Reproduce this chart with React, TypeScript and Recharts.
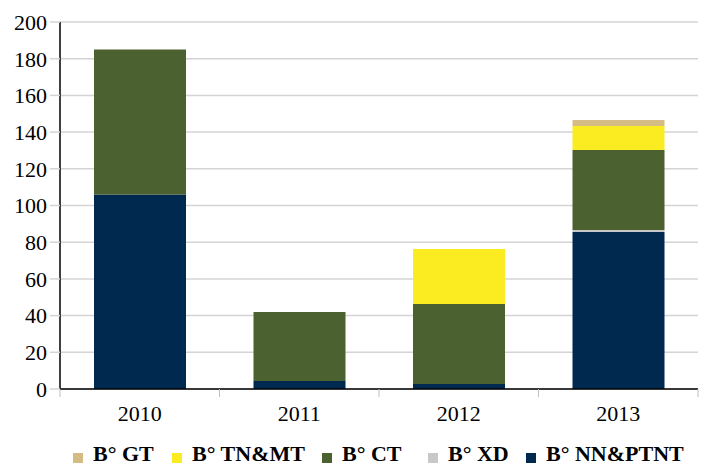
import React from 'react';
import { BarChart, Bar, XAxis, YAxis, CartesianGrid } from 'recharts';

// Categories (years)
const years = ['2010', '2011', '2012', '2013'];

// Series values per year
const nnPtnt = [106, 4.4, 2.7, 85.6];
const xd = [0, 0, 0, 1];
const ct = [79, 37.6, 43.6, 43.6];
const tnMt = [0, 0, 30, 13.1];
const gt = [0, 0, 0, 3.3];

const yTicks = [0, 20, 40, 60, 80, 100, 120, 140, 160, 180, 200];

const data = years.map((year, i) => ({
  year,
  nn: nnPtnt[i],
  xd: xd[i],
  ct: ct[i],
  tn: tnMt[i],
  gt: gt[i],
}));

const COLORS = {
  gt: '#D4BC84',
  tn: '#FBEC22',
  ct: '#4B612F',
  xd: '#C8C8C8',
  nn: '#002950',
};

// legend order is the reverse of the stacking order
const legendItems = [
  { key: 'gt', label: 'B° GT' },
  { key: 'tn', label: 'B° TN&MT' },
  { key: 'ct', label: 'B° CT' },
  { key: 'xd', label: 'B° XD' },
  { key: 'nn', label: 'B° NN&PTNT' },
];
// horizontal placement of each legend swatch
const LEGEND_X = [73, 172, 322, 428, 526];

const WIDTH = 704;
const HEIGHT = 465;
const X_AXIS_HEIGHT = 30;
const MARGIN = { top: 22, right: 6, bottom: 76 - X_AXIS_HEIGHT, left: 0 };
const Y_AXIS_WIDTH = 60;
const PLOT_LEFT = MARGIN.left + Y_AXIS_WIDTH;
const PLOT_RIGHT = WIDTH - MARGIN.right;
const PLOT_BOTTOM = HEIGHT - MARGIN.bottom - X_AXIS_HEIGHT;
const BAND = (PLOT_RIGHT - PLOT_LEFT) / years.length;

const FONT = '"Liberation Serif", "Times New Roman", serif';
const FONT_SIZE = 22;

const XTick = (props: any) => {
  const { x, payload, index } = props;
  const left = x - BAND / 2;
  return (
    <g>
      <line x1={left} x2={left} y1={PLOT_BOTTOM} y2={PLOT_BOTTOM + 8} stroke="#BFBFBF" strokeWidth={1} />
      {index === years.length - 1 && (
        <line x1={left + BAND} x2={left + BAND} y1={PLOT_BOTTOM} y2={PLOT_BOTTOM + 8} stroke="#BFBFBF" strokeWidth={1} />
      )}
      <text x={x} y={PLOT_BOTTOM + 32} textAnchor="middle" style={{ fontFamily: FONT }} fontSize={FONT_SIZE} fill="#000">
        {payload.value}
      </text>
    </g>
  );
};

const LegendBar = () => (
  <div style={{ position: 'absolute', left: 0, top: 0, width: WIDTH, height: HEIGHT, pointerEvents: 'none' }}>
    {legendItems.map((item, i) => (
      <React.Fragment key={item.key}>
        <span
          style={{
            position: 'absolute',
            left: LEGEND_X[i],
            top: 453,
            width: 10,
            height: 10,
            background: (COLORS as any)[item.key],
          }}
        />
        <span
          style={{
            position: 'absolute',
            left: LEGEND_X[i] + 20,
            top: 444,
            fontFamily: FONT,
            fontWeight: 'bold',
            fontSize: FONT_SIZE,
            lineHeight: '20px',
            color: '#000',
            whiteSpace: 'nowrap',
          }}
        >
          {item.label}
        </span>
      </React.Fragment>
    ))}
  </div>
);

export default function App() {
  return (
    <div style={{ position: 'absolute', left: 0, top: 0, width: WIDTH, height: HEIGHT, background: '#fff', fontFamily: FONT }}>
      <BarChart width={WIDTH} height={HEIGHT} data={data} margin={MARGIN} barSize={92}>
        <CartesianGrid vertical={false} stroke="#D4D4D4" strokeWidth={1.5} />
        <XAxis
          dataKey="year"
          height={X_AXIS_HEIGHT}
          axisLine={{ stroke: '#000', strokeWidth: 1.5 }}
          tickLine={false}
          tick={<XTick />}
          interval={0}
        />
        <YAxis
          width={Y_AXIS_WIDTH}
          domain={[0, 200]}
          ticks={yTicks}
          interval={0}
          axisLine={{ stroke: '#000', strokeWidth: 1.5 }}
          tickLine={{ stroke: '#D4D4D4', strokeWidth: 1.5 }}
          tickSize={10}
          tickMargin={3}
          tick={{ fontSize: FONT_SIZE, fill: '#000', style: { fontFamily: FONT } }}
        />
        <Bar dataKey="nn" stackId="s" fill={COLORS.nn} isAnimationActive={false} />
        <Bar dataKey="xd" stackId="s" fill={COLORS.xd} isAnimationActive={false} />
        <Bar dataKey="ct" stackId="s" fill={COLORS.ct} isAnimationActive={false} />
        <Bar dataKey="tn" stackId="s" fill={COLORS.tn} isAnimationActive={false} />
        <Bar dataKey="gt" stackId="s" fill={COLORS.gt} isAnimationActive={false} />
      </BarChart>
      <LegendBar />
    </div>
  );
}
